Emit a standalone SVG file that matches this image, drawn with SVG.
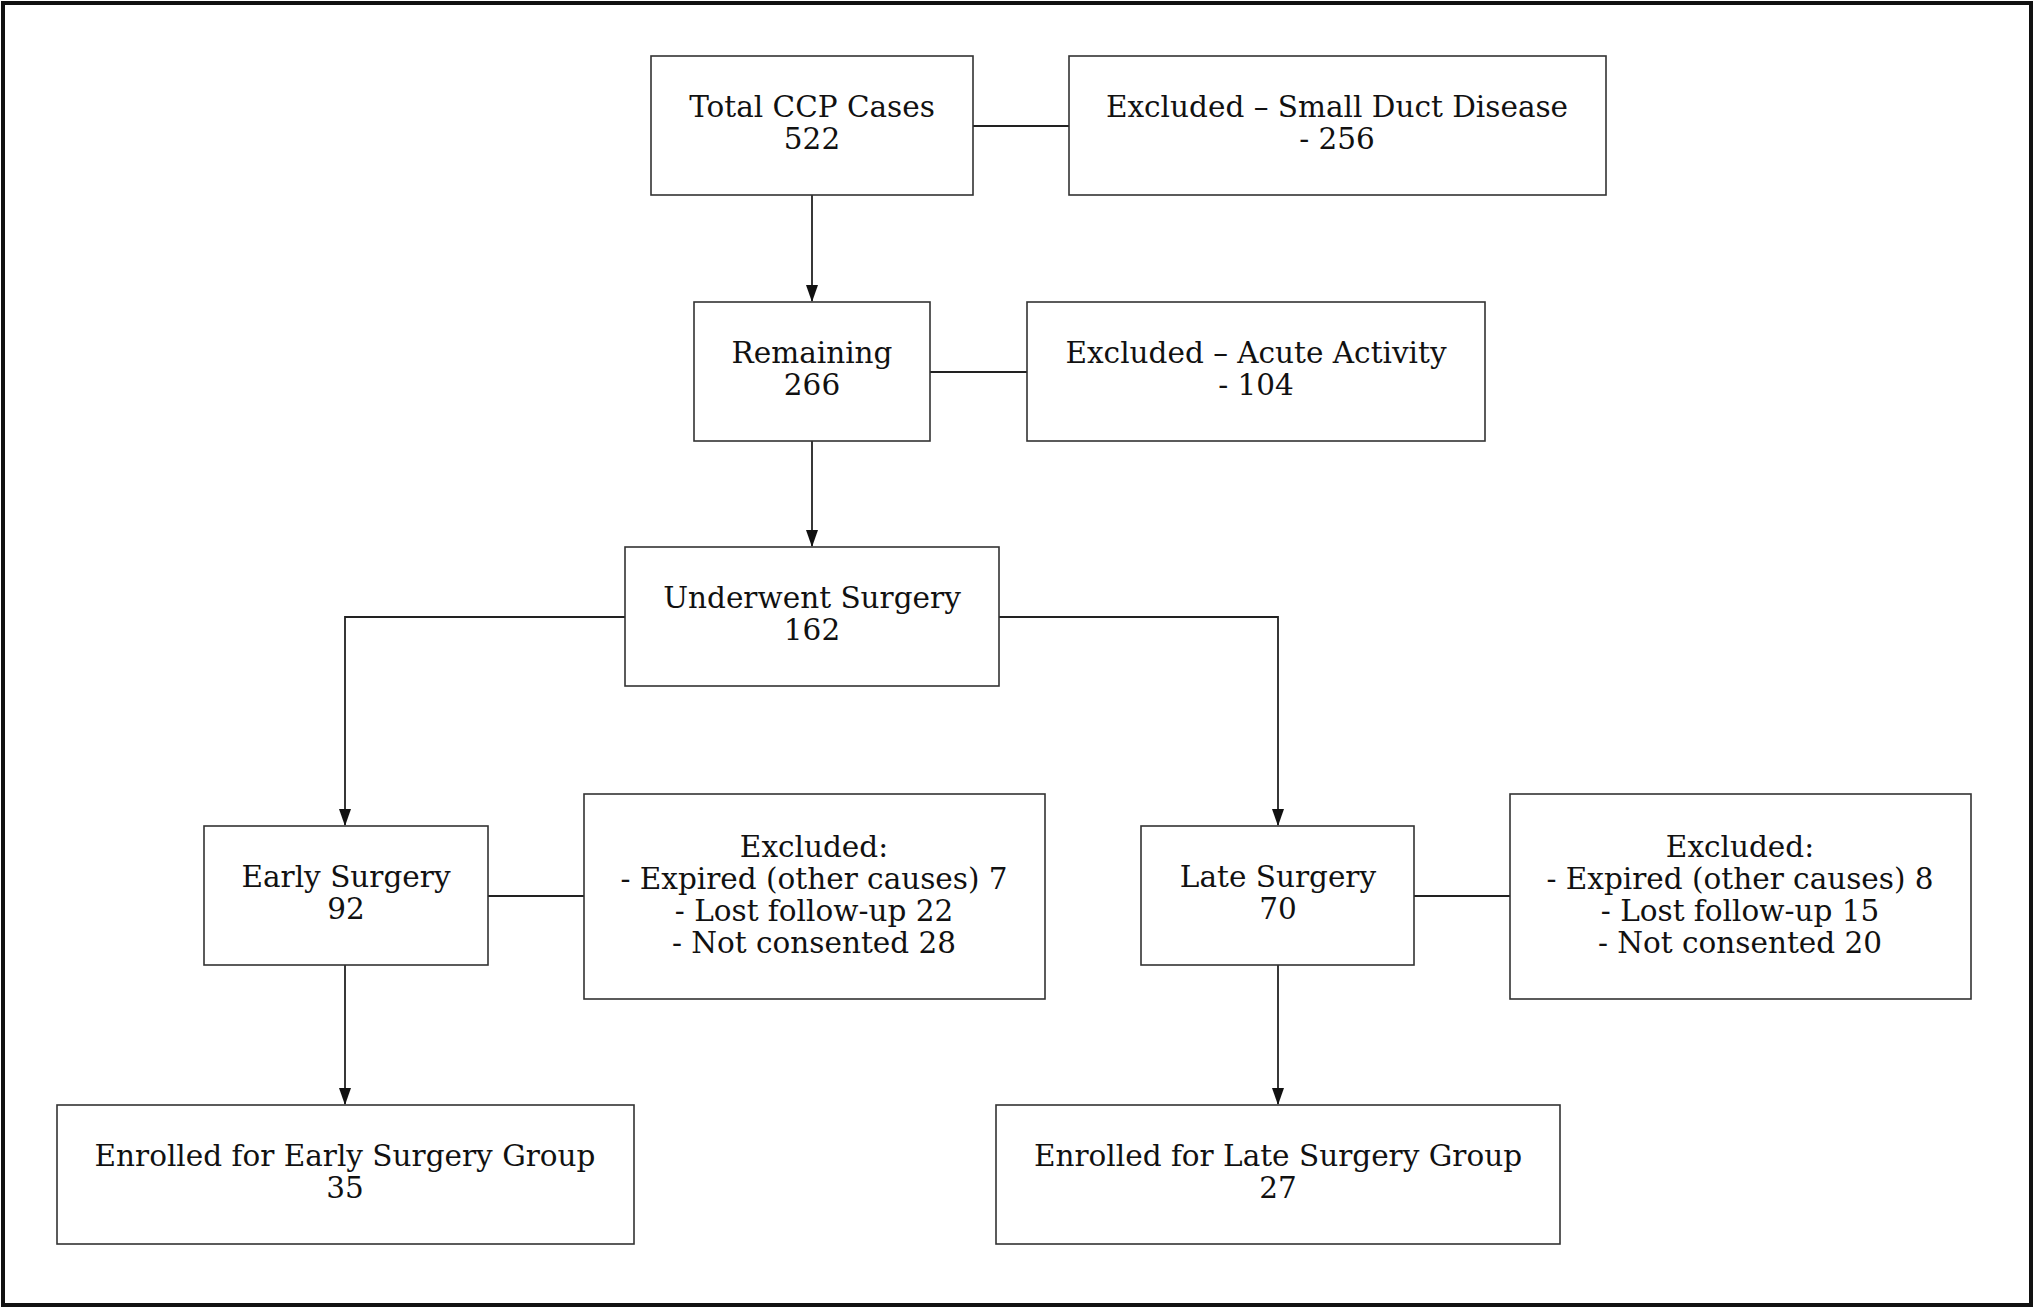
<svg xmlns="http://www.w3.org/2000/svg" width="2034" height="1308" viewBox="0 0 2034 1308">
<style>
rect.n{fill:#fff;stroke:#333;stroke-width:1.6}
text{font-family:"DejaVu Serif",serif;font-size:29.5px;fill:#111;text-anchor:middle}
.c{stroke:#222;stroke-width:1.8;fill:none}
</style>
<defs><marker id="a" markerWidth="17" markerHeight="14" refX="16" refY="7" orient="auto" markerUnits="userSpaceOnUse" viewBox="0 0 17 14"><path d="M0,1 L17,7 L0,13 Z" fill="#111"/></marker></defs>
<rect x="0" y="0" width="2034" height="1308" fill="#fff"/>
<rect x="3" y="3" width="2028" height="1302" fill="none" stroke="#111" stroke-width="4"/>
<g id="connectors">
<path class="c" d="M812,195 V301" marker-end="url(#a)"/>
<path class="c" d="M812,441 V546" marker-end="url(#a)"/>
<path class="c" d="M625,617 H345 V825" marker-end="url(#a)"/>
<path class="c" d="M999,617 H1278 V825" marker-end="url(#a)"/>
<path class="c" d="M345,965 V1104" marker-end="url(#a)"/>
<path class="c" d="M1278,965 V1104" marker-end="url(#a)"/>
<path class="c" d="M973,126 H1069"/>
<path class="c" d="M930,372 H1027"/>
<path class="c" d="M488,896 H584"/>
<path class="c" d="M1414,896 H1510"/>
</g>
<g id="total"><rect class="n" x="651" y="56" width="322" height="139"/><text x="812" y="117">Total CCP Cases</text><text x="812" y="149">522</text></g>
<g id="excl1"><rect class="n" x="1069" y="56" width="537" height="139"/><text x="1337" y="117">Excluded – Small Duct Disease</text><text x="1337" y="149">- 256</text></g>
<g id="remaining"><rect class="n" x="694" y="302" width="236" height="139"/><text x="812" y="363">Remaining</text><text x="812" y="395">266</text></g>
<g id="excl2"><rect class="n" x="1027" y="302" width="458" height="139"/><text x="1256" y="363">Excluded – Acute Activity</text><text x="1256" y="395">- 104</text></g>
<g id="underwent"><rect class="n" x="625" y="547" width="374" height="139"/><text x="812" y="608">Underwent Surgery</text><text x="812" y="640">162</text></g>
<g id="early"><rect class="n" x="204" y="826" width="284" height="139"/><text x="346" y="887">Early Surgery</text><text x="346" y="919">92</text></g>
<g id="exclEarly"><rect class="n" x="584" y="794" width="461" height="205"/><text x="814" y="857">Excluded:</text><text x="814" y="889">- Expired (other causes) 7</text><text x="814" y="921">- Lost follow-up 22</text><text x="814" y="953">- Not consented 28</text></g>
<g id="late"><rect class="n" x="1141" y="826" width="273" height="139"/><text x="1278" y="887">Late Surgery</text><text x="1278" y="919">70</text></g>
<g id="exclLate"><rect class="n" x="1510" y="794" width="461" height="205"/><text x="1740" y="857">Excluded:</text><text x="1740" y="889">- Expired (other causes) 8</text><text x="1740" y="921">- Lost follow-up 15</text><text x="1740" y="953">- Not consented 20</text></g>
<g id="enrolledEarly"><rect class="n" x="57" y="1105" width="577" height="139"/><text x="345" y="1166">Enrolled for Early Surgery Group</text><text x="345" y="1198">35</text></g>
<g id="enrolledLate"><rect class="n" x="996" y="1105" width="564" height="139"/><text x="1278" y="1166">Enrolled for Late Surgery Group</text><text x="1278" y="1198">27</text></g>
</svg>
